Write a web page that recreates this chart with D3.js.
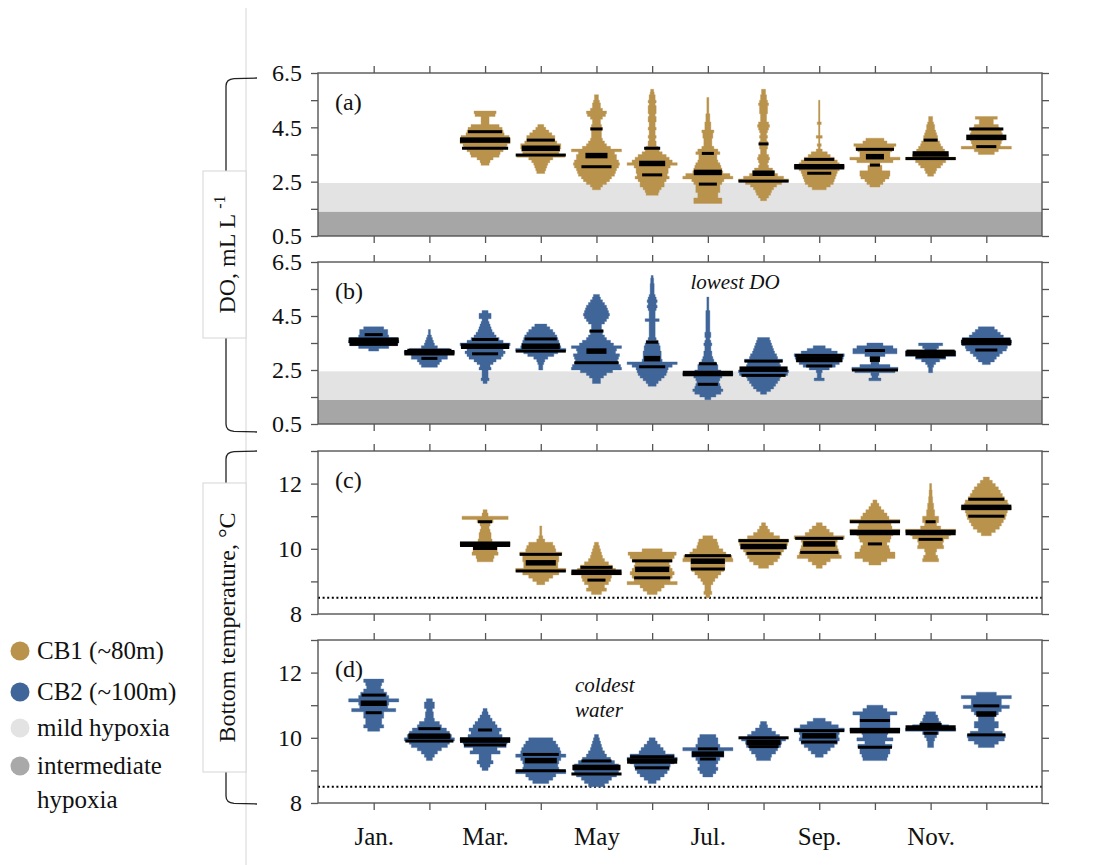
<!DOCTYPE html>
<html>
<head>
<meta charset="utf-8">
<script src="https://cdn.jsdelivr.net/npm/d3@7"></script>
<style>
  body { margin: 0; background: #fff; }
  svg { display: block; }
  svg text { font-family: "Liberation Serif", "LiberationSerif", Tinos, "Times New Roman", Times, "Nimbus Roman", "DejaVu Serif", serif !important; }
</style>
</head>
<body>
<svg id="chart" width="1102" height="865"></svg>
<script>
// ---- data -------------------------------------------------------------
// month index (1 = Jan), lowest bin edge, bin counts (bin = 0.1 units, bottom-up),
// and the three summary bars [value, half-length] (upper quartile, median, lower quartile)
const monthTicks = [1, 2, 3, 4, 5, 6, 7, 8, 9, 10, 11, 12];
const monthLabels = ["Jan.", "", "Mar.", "", "May", "", "Jul.", "", "Sep.", "", "Nov.", ""];
const binSize = 0.1;

const doCB1 = [
  [3, 3.1, [4,5,8,14,15,18,21,22,25,25,24,19,18,17,14,4,4,4,10,11], [[4.34,17],[4.03,25],[3.73,23]]],
  [4, 2.8, [4,5,6,7,9,12,24,18,19,20,20,16,14,14,11,8,5,3], [[4.03,14],[3.73,19],[3.48,25]]],
  [5, 2.2, [4,6,10,13,15,18,19,20,22,23,22,20,20,18,25,14,10,8,6,5,5,5,6,5,4,4,6,9,10,6,4,4,3,2,2], [[4.44,6],[3.46,11],[3.05,15]]],
  [6, 2.0, [6,7,9,12,12,14,17,15,16,16,18,25,20,17,14,10,7,6,4,4,3,4,3,3,4,3,3,4,4,3,4,4,4,3,4,3,3,2,1.5], [[3.73,8],[3.17,13],[2.75,10]]],
  [7, 1.7, [14,14,10,10,12,12,12,14,16,25,22,15,14,13,12,10,9,9,12,10,6,4,4,4,5,5,6,3,3,3,2,2,2,1,1,1,1,1,1], [[3.54,6],[2.84,14],[2.41,9]]],
  [8, 1.8, [3,5,7,8,10,13,18,25,20,14,11,9,5,4,5,6,5,3,3,4,4,4,3,4,3,4,5,6,5,3,3,3,4,4,4,5,4,3,3,2,2], [[3.89,5],[2.81,11],[2.52,25]]],
  [9, 2.2, [7,11,14,15,16,17,18,20,25,20,18,15,11,8,3,1,2,0.7,0.7,3,0.7,0.7,0.7,0.7,2,0.7,0.7,0.7,0.7,0.7,0.7,0.7,0.7], [[3.32,15],[3.05,25],[2.81,12]]],
  [10, 2.3, [5,8,10,14,15,15,7,7,5,18,25,15,15,17,19,21,12,9], [[3.69,19],[3.42,9],[3.11,5]]],
  [11, 2.7, [3,5,6,10,12,15,25,18,17,14,12,10,9,7,7,6,5,4,4,3,2,2], [[4.03,7],[3.52,18],[3.35,25]]],
  [12, 3.5, [8,12,25,14,15,16,18,16,15,13,12,7,7,11], [[4.44,17],[4.13,20],[3.79,10]]]
];

const doCB2 = [
  [1, 3.2, [5,15,24,25,24,15,14,14,10], [[3.81,9],[3.6,25],[3.45,24]]],
  [2, 2.6, [8,10,12,18,18,25,20,8,5,4,3,2,1,1], [[3.23,22],[3.14,25],[2.93,8]]],
  [3, 2.0, [2,4,3,3,3,6,5,8,11,16,18,20,18,24,25,18,14,11,9,7,6,5,4,3,6,6,3], [[3.63,13],[3.38,24],[3.10,13]]],
  [4, 2.5, [2,2,3,4,7,13,17,25,20,19,18,17,16,14,12,9,6], [[3.65,16],[3.38,19],[3.20,25]]],
  [5, 2.0, [4,4,7,10,16,25,24,22,21,22,23,19,20,25,17,14,10,8,6,6,5,5,8,10,12,13,12,11,10,8,6,4,3], [[3.94,7],[3.2,10],[2.77,22]]],
  [6, 1.9, [4,6,9,12,14,15,16,20,25,10,9,9,9,8,8,7,6,4,3,3,3,3,3,3,7,3,3,3,4,5,4,5,4,3,2,2,2,2,1.5,1.5,1], [[3.53,6],[2.92,8],[2.62,13]]],
  [7, 1.4, [3,8,13,15,13,12,11,12,14,25,13,10,10,8,6,5,4,4,3,3,4,3,2,3,3,2,2,2,2,2,2,2,2,1,1,1,1,1], [[2.73,9],[2.37,25],[1.97,10]]],
  [8, 1.6, [3,7,10,12,14,16,17,24,25,22,17,16,19,14,13,11,10,9,8,7,6], [[2.83,19],[2.53,24],[2.30,22]]],
  [9, 2.1, [5,2,2,3,10,16,20,23,24,25,18,12,6], [[3.04,24],[2.89,23],[2.65,13]]],
  [10, 2.1, [6,3,4,20,23,15,4,4,5,10,22,22,18,8], [[3.22,10],[2.9,5],[2.5,23]]],
  [11, 2.4, [2,2,3,5,9,15,25,25,6,8,12], [[3.2,24],[3.12,25],[2.99,15]]],
  [12, 2.7, [4,8,10,13,16,20,21,24,25,24,17,14,11,8], [[3.63,24],[3.52,25],[3.24,11]]]
];

const tempCB1 = [
  [3, 9.6, [8,9,13,12,12,25,7,6,6,5,4,5,8,23,3,2], [[10.83,7],[10.14,25],[10.01,12]]],
  [4, 8.9, [4,8,12,18,25,17,17,18,18,21,15,14,12,4,2,1,1,1], [[9.83,21],[9.57,15],[9.32,25]]],
  [5, 8.6, [5,10,8,12,14,15,25,19,16,12,8,6,5,4,3,2], [[9.43,16],[9.28,25],[9.04,9]]],
  [6, 8.6, [5,9,12,25,18,20,22,20,18,17,20,22,24,10], [[9.63,20],[9.37,17],[9.11,18]]],
  [7, 8.5, [2,4,3,3,5,7,10,13,16,17,17,25,24,18,15,11,10,9,5], [[9.79,23],[9.62,17],[9.38,17]]],
  [8, 9.4, [5,10,14,16,18,20,23,24,25,16,10,6,4,2], [[10.25,25],[10.07,23],[9.86,17]]],
  [9, 9.4, [3,7,11,22,20,19,18,17,18,25,14,10,7,3], [[10.32,24],[10.15,16],[9.89,19]]],
  [10, 9.5, [6,12,20,20,15,14,12,15,16,18,25,17,16,25,14,12,9,6,4,2], [[10.83,25],[10.5,25],[10.15,7]]],
  [11, 9.6, [8,7,5,6,13,12,13,18,20,25,10,6,8,8,4,4,3,3,2,2,1.5,1.5,1,1], [[10.83,5],[10.5,25],[10.29,12]]],
  [12, 10.4, [5,9,13,15,17,19,20,21,25,22,21,18,16,14,12,9,6,3], [[11.52,18],[11.27,25],[11.0,18]]]
];

const tempCB2 = [
  [1, 10.2, [6,10,8,8,10,10,22,14,15,25,15,13,10,7,8,10], [[11.31,12],[11.06,13],[10.77,8]]],
  [2, 9.3, [3,5,8,12,18,20,25,22,20,17,12,10,5,4,4,3,5,5,3], [[10.28,11],[10.05,21],[9.9,24]]],
  [3, 9.0, [3,5,8,6,6,15,12,21,22,25,17,14,16,12,10,7,5,3,2], [[10.24,7],[9.93,25],[9.78,21]]],
  [4, 8.6, [8,12,15,25,18,17,18,20,25,20,19,17,15,12], [[9.49,18],[9.30,16],[8.99,25]]],
  [5, 8.5, [8,12,15,20,22,23,22,18,14,10,8,6,5,4,3,2], [[9.29,15],[9.09,24],[8.89,25]]],
  [6, 8.6, [4,8,12,15,17,18,22,25,22,13,11,8,5,3], [[9.42,22],[9.29,25],[9.08,17]]],
  [7, 8.8, [5,8,10,8,10,12,16,16,25,12,10,10,8], [[9.66,10],[9.5,16],[9.35,8]]],
  [8, 9.3, [7,8,12,14,17,18,22,16,12,8,4,3], [[10.0,25],[9.86,17],[9.73,15]]],
  [9, 9.4, [4,8,11,15,18,20,19,20,25,19,12,6], [[10.22,25],[10.06,17],[9.87,18]]],
  [10, 9.3, [12,13,15,15,17,10,18,12,13,25,15,15,15,15,22,12,8], [[10.53,15],[10.22,25],[9.71,17]]],
  [11, 9.7, [3,3,4,6,8,25,18,10,8,7,5], [[10.41,11],[10.3,25],[10.14,7]]],
  [12, 9.7, [8,12,18,19,16,8,12,12,8,8,12,15,23,15,15,25,10], [[10.98,13],[10.73,10],[10.09,19]]]
];

const doTicks = [0.5, 1.5, 2.5, 3.5, 4.5, 5.5, 6.5];
const doTickLabels = [0.5, 2.5, 4.5, 6.5];
const tempTicks = [8, 9, 10, 11, 12, 13];
const tempTickLabels = [8, 10, 12];
const hypoxiaBands = [[0.5, 1.4, "#a6a6a6"], [1.4, 2.45, "#e3e3e3"]];
const coldRef = 8.5;

// ---- styling ------------------------------------------------------------
const TAN = "#b9924c", BLUE = "#3f6599", AXIS = "#555";
const serif = '"Liberation Serif", Tinos, "Times New Roman", Times, "DejaVu Serif", serif';

const svg = d3.select("#chart");
const x = d3.scaleLinear().domain([0, 13]).range([318, 1042]);
const halfBand = (x(1) - x(0)) / 2;
const w = d3.scaleLinear().domain([0, 25]).range([0, halfBand * 0.9]);

const panels = [
  { tag: "(a)", data: doCB1, color: TAN, dom: [0.5, 6.5], top: 73, bottom: 236, ticks: doTicks, labels: doTickLabels, fmt: d3.format(".1f"), bands: true },
  { tag: "(b)", data: doCB2, color: BLUE, dom: [0.5, 6.5], top: 262, bottom: 424, ticks: doTicks, labels: doTickLabels, fmt: d3.format(".1f"), bands: true },
  { tag: "(c)", data: tempCB1, color: TAN, dom: [8, 13], top: 451, bottom: 614, ticks: tempTicks, labels: tempTickLabels, fmt: d3.format("d"), ref: coldRef },
  { tag: "(d)", data: tempCB2, color: BLUE, dom: [8, 13], top: 640, bottom: 803, ticks: tempTicks, labels: tempTickLabels, fmt: d3.format("d"), ref: coldRef, xLabels: true }
];

// ---- left-hand decoration: guide line, brackets and title boxes ---------
svg.append("line").attr("x1", 246).attr("x2", 246).attr("y1", 8).attr("y2", 865)
  .attr("stroke", "#d6d6d6").attr("stroke-width", 1);

function bracket(y0, y1) {
  svg.append("path")
    .attr("d", `M257,${y0} L234,${y0 + 0.6} Q226,${y0 + 1.2} 226,${y0 + 8} L226,${y1 - 8} Q226,${y1 - 1.2} 234,${y1 - 0.6} L257,${y1}`)
    .attr("fill", "none").attr("stroke", "#222").attr("stroke-width", 1.3);
}
bracket(78, 432);
bracket(451, 804);

function titleBox(y0, y1, build) {
  svg.append("rect").attr("x", 203).attr("y", y0).attr("width", 43).attr("height", y1 - y0)
    .attr("fill", "#fff").attr("stroke", "#d6d6d6").attr("stroke-width", 1);
  const t = svg.append("text")
    .attr("transform", `translate(235,${(y0 + y1) / 2}) rotate(-90)`)
    .attr("text-anchor", "middle").attr("font-size", 24).attr("fill", "#111");
  build(t);
}
titleBox(171, 338, t => {
  t.append("tspan").text("DO, mL L ");
  t.append("tspan").attr("font-size", 16).attr("dy", -10).text("-1");
});
titleBox(483, 772, t => t.text("Bottom temperature, °C"));

// ---- panels -------------------------------------------------------------
panels.forEach(p => {
  const y = d3.scaleLinear().domain(p.dom).range([p.bottom, p.top]);
  const g = svg.append("g");

  if (p.bands) {
    g.selectAll("rect.band").data(hypoxiaBands).join("rect")
      .attr("x", x(0)).attr("width", x(13) - x(0))
      .attr("y", d => y(d[1])).attr("height", d => y(d[0]) - y(d[1]))
      .attr("fill", d => d[2]);
  }
  if (p.ref !== undefined) {
    g.append("line").attr("x1", x(0)).attr("x2", x(13))
      .attr("y1", y(p.ref)).attr("y2", y(p.ref))
      .attr("stroke", "#000").attr("stroke-width", 2).attr("stroke-dasharray", "2,2.6");
  }

  // stepped violins
  const area = d3.area()
    .y(d => y(d.v))
    .x0(d => x(d.m) - w(d.c))
    .x1(d => x(d.m) + w(d.c));
  p.data.forEach(([m, lo, counts, bars]) => {
    const pts = counts.flatMap((c, i) => [
      { m, c, v: lo + i * binSize },
      { m, c, v: lo + (i + 1) * binSize }
    ]);
    g.append("path").attr("d", area(pts)).attr("fill", p.color)
      .attr("stroke", p.color).attr("stroke-width", 0.6).attr("stroke-opacity", 0.6);
    bars.forEach(([v, c], i) => {
      const h = i === 1 ? 5.5 : 3;
      g.append("rect")
        .attr("x", x(m) - w(c)).attr("width", 2 * w(c))
        .attr("y", y(v) - h / 2).attr("height", h)
        .attr("fill", "#000");
    });
  });

  // frame
  g.append("rect").attr("x", x(0)).attr("y", p.top)
    .attr("width", x(13) - x(0)).attr("height", p.bottom - p.top)
    .attr("fill", "none").attr("stroke", AXIS).attr("stroke-width", 1.4);

  const style = sel => {
    sel.select(".domain").remove();
    sel.selectAll(".tick line").attr("stroke", AXIS).attr("stroke-width", 1.3);
    sel.attr("font-family", serif);
    sel.selectAll("text").attr("fill", "#111");
  };

  g.append("g").attr("transform", `translate(${x(0)},0)`)
    .call(d3.axisLeft(y).tickValues(p.ticks).tickSize(7).tickSizeOuter(0).tickPadding(9)
      .tickFormat(d => p.labels.includes(d) ? p.fmt(d) : ""))
    .call(style).attr("font-size", 24);
  g.append("g").attr("transform", `translate(${x(13)},0)`)
    .call(d3.axisRight(y).tickValues(p.ticks).tickSize(7).tickSizeOuter(0).tickFormat(""))
    .call(style);
  g.append("g").attr("transform", `translate(0,${p.top})`)
    .call(d3.axisTop(x).tickValues(monthTicks).tickSize(7).tickSizeOuter(0).tickFormat(""))
    .call(style);
  g.append("g").attr("transform", `translate(0,${p.bottom})`)
    .call(d3.axisBottom(x).tickValues(monthTicks).tickSize(7).tickSizeOuter(0).tickPadding(17)
      .tickFormat((d, i) => p.xLabels ? monthLabels[i] : ""))
    .call(style).attr("font-size", 25);

  g.append("text").attr("x", 335).attr("y", p.top + 37)
    .attr("font-size", 24).attr("fill", "#111").text(p.tag);
});

// ---- annotations --------------------------------------------------------
svg.append("text").attr("x", 735).attr("y", 289).attr("text-anchor", "middle")
  .attr("font-size", 21).attr("font-style", "italic").attr("fill", "#111").text("lowest DO");
const cold = svg.append("text").attr("x", 575).attr("y", 692)
  .attr("font-size", 21).attr("font-style", "italic").attr("fill", "#111");
cold.append("tspan").attr("x", 575).text("coldest");
cold.append("tspan").attr("x", 575).attr("dy", 25).text("water");

// ---- legend -------------------------------------------------------------
const legendItems = [
  { label: ["CB1 (~80m)"], color: TAN },
  { label: ["CB2 (~100m)"], color: BLUE },
  { label: ["mild hypoxia"], color: "#e3e3e3" },
  { label: ["intermediate", "hypoxia"], color: "#a9a9a9" }
];
const legendY = [651, 692, 728, 766];
const lg = svg.append("g");
legendItems.forEach((it, i) => {
  lg.append("circle").attr("cx", 20).attr("cy", legendY[i]).attr("r", 9.5).attr("fill", it.color);
  const t = lg.append("text").attr("x", 37).attr("y", legendY[i] + 8)
    .attr("font-size", 25).attr("fill", "#111");
  it.label.forEach((s, j) => t.append("tspan").attr("x", 37).attr("dy", j ? 34 : 0).text(s));
});
</script>
</body>
</html>
